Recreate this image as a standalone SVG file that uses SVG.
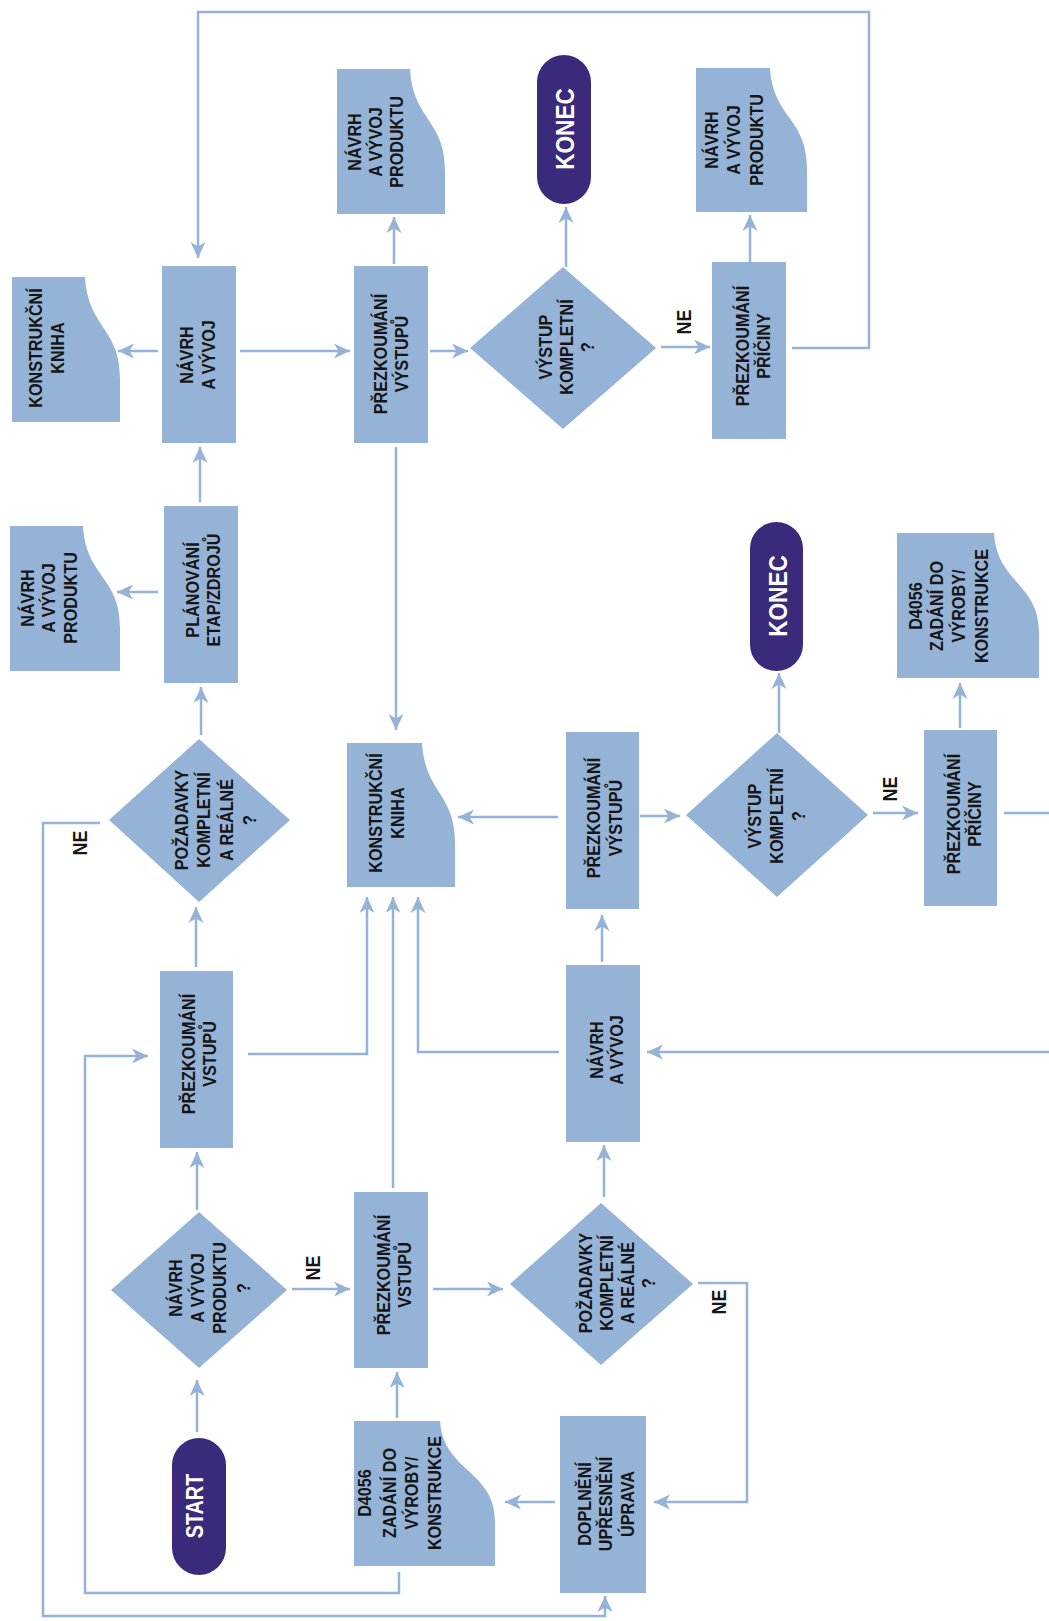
<svg xmlns="http://www.w3.org/2000/svg" width="1049" height="1621" viewBox="0 0 1049 1621">
  <style>
    .box { fill: #95b3d7; }
    .term { fill: #3b2a7c; }
    .ln { fill: none; stroke: #95b3d7; stroke-width: 2.5; }
    .arw { marker-end: url(#arr); }
    .t { font-family: "Liberation Sans", Arial, sans-serif; font-weight: bold; font-size: 18px; fill: #161616; text-anchor: middle; }
    .tt { font-family: "Liberation Sans", Arial, sans-serif; font-weight: bold; font-size: 26px; fill: #ffffff; text-anchor: middle; }
    .ne { font-family: "Liberation Sans", Arial, sans-serif; font-weight: bold; font-size: 21px; fill: #161616; text-anchor: middle; }
  </style>
  <defs>
    <marker id="arr" viewBox="0 0 16 16" refX="16" refY="8" markerWidth="16" markerHeight="16" markerUnits="userSpaceOnUse" orient="auto">
      <path d="M16,8 L0,0.5 L4.5,8 L0,15.5 Z" fill="#95b3d7"/>
    </marker>
  </defs>
  <rect width="1049" height="1621" fill="#ffffff"/>

  <!-- connectors -->
  <g id="connectors">
    <path class="ln arw" d="M792,348 H869 V12 H198 V258"/>
    <path class="ln arw" d="M158,351 H118"/>
    <path class="ln arw" d="M240,351 H350"/>
    <path class="ln arw" d="M430,351 H468"/>
    <path class="ln arw" d="M394,264 V217"/>
    <path class="ln arw" d="M566,267 V207"/>
    <path class="ln arw" d="M661,347 H710"/>
    <path class="ln arw" d="M750,262 V215"/>
    <path class="ln arw" d="M200,502 V447"/>
    <path class="ln arw" d="M158,592 H117"/>
    <path class="ln arw" d="M201,735 V687"/>
    <path class="ln arw" d="M396,447 V730"/>
    <path class="ln arw" d="M100,823 H43 V1616 H605 V1596"/>
    <path class="ln arw" d="M196,967 V907"/>
    <path class="ln arw" d="M248,1054 H367 V897"/>
    <path class="ln arw" d="M393,1188 V897"/>
    <path class="ln arw" d="M559,1052 H418 V897"/>
    <path class="ln arw" d="M558,817 H458"/>
    <path class="ln arw" d="M602,962 V915"/>
    <path class="ln arw" d="M640,816 H680"/>
    <path class="ln arw" d="M779,733 V673"/>
    <path class="ln arw" d="M873,813 H918"/>
    <path class="ln arw" d="M960,728 V683"/>
    <path class="ln arw" d="M1004,813 H1056 V1052 H647"/>
    <path class="ln arw" d="M197,1210 V1152"/>
    <path class="ln arw" d="M197,1432 V1380"/>
    <path class="ln arw" d="M292,1289 H350"/>
    <path class="ln arw" d="M433,1289 H503"/>
    <path class="ln arw" d="M399,1572 V1593 H85 V1056 H148"/>
    <path class="ln arw" d="M397,1418 V1372"/>
    <path class="ln arw" d="M604,1197 V1145"/>
    <path class="ln arw" d="M698,1283 H747 V1502 H654"/>
    <path class="ln arw" d="M555,1502 H505"/>
  </g>

  <!-- upper row -->
  <g id="kniha-1">
    <path class="box" d="M12,277 H85 C88,328 120,328 120,378 V422 H12 Z"/>
    <text class="t" transform="translate(41.5,348) rotate(-90) scale(0.9,1)"><tspan x="0" y="0">KONSTRUKČNÍ</tspan><tspan x="0" y="23">KNIHA</tspan></text>
  </g>
  <g id="navrh-1">
    <rect class="box" x="162" y="266" width="74" height="177"/>
    <text class="t" transform="translate(192.5,355) rotate(-90) scale(0.9,1)"><tspan x="0" y="0">NÁVRH</tspan><tspan x="0" y="23">A VÝVOJ</tspan></text>
  </g>
  <g id="vystupy-1">
    <rect class="box" x="354" y="266" width="74" height="177"/>
    <text class="t" transform="translate(386.5,354) rotate(-90) scale(0.9,1)"><tspan x="0" y="0">PŘEZKOUMÁNÍ</tspan><tspan x="0" y="22">VÝSTUPŮ</tspan></text>
  </g>
  <g id="produkt-1">
    <path class="box" d="M337,69 H410 C413,120 445,120 445,170 V214 H337 Z"/>
    <text class="t" transform="translate(360.5,142) rotate(-90) scale(0.9,1)"><tspan x="0" y="0">NÁVRH</tspan><tspan x="0" y="21.5">A VÝVOJ</tspan><tspan x="0" y="43">PRODUKTU</tspan></text>
  </g>
  <g id="kompletni-1">
    <polygon class="box" points="563,267 656,348 563,429 470,348"/>
    <text class="t" transform="translate(551.5,347) rotate(-90) scale(0.9,1)"><tspan x="0" y="0">VÝSTUP</tspan><tspan x="0" y="21.5">KOMPLETNÍ</tspan><tspan x="0" y="43">?</tspan></text>
  </g>
  <g id="konec-1">
    <rect class="term" x="537" y="55" width="54" height="149" rx="27"/>
    <text class="tt" transform="translate(573.5,129) rotate(-90) scale(0.87,1)">KONEC</text>
  </g>
  <g id="priciny-1">
    <rect class="box" x="712" y="262" width="74" height="177"/>
    <text class="t" transform="translate(748.5,346) rotate(-90) scale(0.9,1)"><tspan x="0" y="0">PŘEZKOUMÁNÍ</tspan><tspan x="0" y="22">PŘÍČINY</tspan></text>
  </g>
  <g id="produkt-2">
    <path class="box" d="M696,68 H770 C773,118 807,118 807,168 V212 H696 Z"/>
    <text class="t" transform="translate(717.5,140) rotate(-90) scale(0.9,1)"><tspan x="0" y="0">NÁVRH</tspan><tspan x="0" y="23">A VÝVOJ</tspan><tspan x="0" y="46">PRODUKTU</tspan></text>
  </g>

  <!-- middle row -->
  <g id="produkt-3">
    <path class="box" d="M10,526 H83 C86,577 120,577 120,627 V671 H10 Z"/>
    <text class="t" transform="translate(34,598) rotate(-90) scale(0.9,1)"><tspan x="0" y="0">NÁVRH</tspan><tspan x="0" y="21.5">A VÝVOJ</tspan><tspan x="0" y="43">PRODUKTU</tspan></text>
  </g>
  <g id="planovani">
    <rect class="box" x="164" y="506" width="74" height="177"/>
    <text class="t" transform="translate(198.5,590) rotate(-90) scale(0.9,1)"><tspan x="0" y="0">PLÁNOVÁNÍ</tspan><tspan x="0" y="22">ETAP/ZDROJŮ</tspan></text>
  </g>
  <g id="pozadavky-1">
    <polygon class="box" points="199,739 290,820 199,902 109,820"/>
    <text class="t" transform="translate(187.5,820) rotate(-90) scale(0.9,1)"><tspan x="0" y="0">POŽADAVKY</tspan><tspan x="0" y="23">KOMPLETNÍ</tspan><tspan x="0" y="46">A REÁLNÉ</tspan><tspan x="0" y="69">?</tspan></text>
  </g>
  <g id="kniha-2">
    <path class="box" d="M347,743 H422 C425,793 455,793 455,843 V887 H347 Z"/>
    <text class="t" transform="translate(381.5,813) rotate(-90) scale(0.9,1)"><tspan x="0" y="0">KONSTRUKČNÍ</tspan><tspan x="0" y="23">KNIHA</tspan></text>
  </g>
  <g id="vystupy-2">
    <rect class="box" x="566" y="732" width="73" height="177"/>
    <text class="t" transform="translate(599.5,818) rotate(-90) scale(0.9,1)"><tspan x="0" y="0">PŘEZKOUMÁNÍ</tspan><tspan x="0" y="23">VÝSTUPŮ</tspan></text>
  </g>
  <g id="kompletni-2">
    <polygon class="box" points="777,733 868,815 777,897 686,815"/>
    <text class="t" transform="translate(760.5,816) rotate(-90) scale(0.9,1)"><tspan x="0" y="0">VÝSTUP</tspan><tspan x="0" y="23">KOMPLETNÍ</tspan><tspan x="0" y="45">?</tspan></text>
  </g>
  <g id="konec-2">
    <rect class="term" x="750" y="522" width="53" height="149" rx="26.5"/>
    <text class="tt" transform="translate(787,596) rotate(-90) scale(0.87,1)">KONEC</text>
  </g>
  <g id="priciny-2">
    <rect class="box" x="924" y="730" width="73" height="176"/>
    <text class="t" transform="translate(959.5,814) rotate(-90) scale(0.9,1)"><tspan x="0" y="0">PŘEZKOUMÁNÍ</tspan><tspan x="0" y="22">PŘÍČINY</tspan></text>
  </g>
  <g id="zadani-1">
    <path class="box" d="M897,533 H994 C997,583 1039,583 1039,633 V678 H897 Z"/>
    <text class="t" transform="translate(921.5,606) rotate(-90) scale(0.9,1)"><tspan x="0" y="0">D4056</tspan><tspan x="0" y="22">ZADÁNÍ DO</tspan><tspan x="0" y="44">VÝROBY/</tspan><tspan x="0" y="67">KONSTRUKCE</tspan></text>
  </g>

  <!-- lower row -->
  <g id="vstupy-1">
    <rect class="box" x="160" y="971" width="73" height="177"/>
    <text class="t" transform="translate(194.5,1054) rotate(-90) scale(0.9,1)"><tspan x="0" y="0">PŘEZKOUMÁNÍ</tspan><tspan x="0" y="22">VSTUPŮ</tspan></text>
  </g>
  <g id="navrh-2">
    <rect class="box" x="566" y="965" width="74" height="177"/>
    <text class="t" transform="translate(602.5,1050) rotate(-90) scale(0.9,1)"><tspan x="0" y="0">NÁVRH</tspan><tspan x="0" y="21">A VÝVOJ</tspan></text>
  </g>
  <g id="produkt-otazka">
    <polygon class="box" points="199,1212 287,1290 199,1368 111,1290"/>
    <text class="t" transform="translate(181.5,1288) rotate(-90) scale(0.9,1)"><tspan x="0" y="0">NÁVRH</tspan><tspan x="0" y="23">A VÝVOJ</tspan><tspan x="0" y="45">PRODUKTU</tspan><tspan x="0" y="69">?</tspan></text>
  </g>
  <g id="vstupy-2">
    <rect class="box" x="354" y="1192" width="74" height="176"/>
    <text class="t" transform="translate(389.5,1275) rotate(-90) scale(0.9,1)"><tspan x="0" y="0">PŘEZKOUMÁNÍ</tspan><tspan x="0" y="22">VSTUPŮ</tspan></text>
  </g>
  <g id="pozadavky-2">
    <polygon class="box" points="601,1203 693,1284 601,1365 510,1284"/>
    <text class="t" transform="translate(591.5,1283) rotate(-90) scale(0.9,1)"><tspan x="0" y="0">POŽADAVKY</tspan><tspan x="0" y="21.5">KOMPLETNÍ</tspan><tspan x="0" y="43">A REÁLNÉ</tspan><tspan x="0" y="64">?</tspan></text>
  </g>
  <g id="start">
    <rect class="term" x="172" y="1438" width="54" height="137" rx="27"/>
    <text class="tt" style="font-size:23px" transform="translate(203,1506) rotate(-90) scale(0.86,1)">START</text>
  </g>
  <g id="zadani-2">
    <path class="box" d="M354,1421 H440 C443,1471 495,1471 495,1521 V1566 H354 Z"/>
    <text class="t" transform="translate(370.5,1493) rotate(-90) scale(0.9,1)"><tspan x="0" y="0">D4056</tspan><tspan x="0" y="26">ZADÁNÍ DO</tspan><tspan x="0" y="48">VÝROBY/</tspan><tspan x="0" y="71">KONSTRUKCE</tspan></text>
  </g>
  <g id="doplneni">
    <rect class="box" x="560" y="1416" width="86" height="177"/>
    <text class="t" transform="translate(590.5,1504) rotate(-90) scale(0.9,1)"><tspan x="0" y="0">DOPLNĚNÍ</tspan><tspan x="0" y="22">UPŘESNĚNÍ</tspan><tspan x="0" y="44">ÚPRAVA</tspan></text>
  </g>

  <!-- branch labels -->
  <g id="labels">
    <text class="ne" transform="translate(690.5,322) rotate(-90) scale(0.85,1)">NE</text>
    <text class="ne" transform="translate(86.5,843) rotate(-90) scale(0.85,1)">NE</text>
    <text class="ne" transform="translate(896.5,789) rotate(-90) scale(0.85,1)">NE</text>
    <text class="ne" transform="translate(319.5,1268) rotate(-90) scale(0.85,1)">NE</text>
    <text class="ne" transform="translate(725.5,1302) rotate(-90) scale(0.85,1)">NE</text>
  </g>
</svg>
